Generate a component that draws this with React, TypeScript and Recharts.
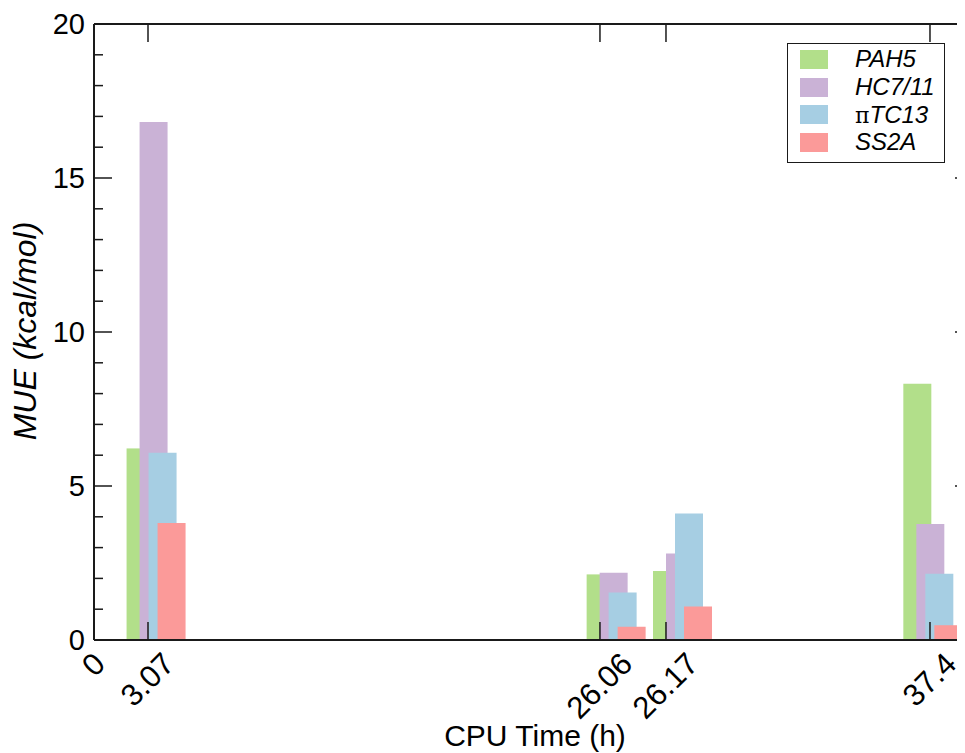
import React from "react";
import { BarChart, Bar, XAxis, YAxis, ReferenceLine, Legend } from "recharts";

// where each bar group sits along the x axis (axis units, 0..100)
const groupPos = [7.32, 60.14, 67.76, 96.5];

// MUE (kcal/mol) per method, one value per group
const pah5 = [6.22, 2.13, 2.24, 8.32];
const hc711 = [16.82, 2.18, 2.81, 3.77];
const ptc13 = [6.08, 1.54, 4.11, 2.15];
const ss2a = [3.8, 0.43, 1.09, 0.48];

// x ticks (axis units) and the CPU time shown on them
const tickPos = [0, 6.2, 58.09, 65.67, 95.98];
const tickLabels = ["0", "3.07", "26.06", "26.17", "37.4"];

const yTicks = [0, 1, 2, 3, 4, 5, 6, 7, 8, 9, 10, 11, 12, 13, 14, 15, 16, 17, 18, 19, 20];

const series = [
  { key: "pah5", name: "PAH5", color: "#b2df8a" },
  { key: "hc711", name: "HC7/11", color: "#cab2d6" },
  { key: "ptc13", name: "πTC13", color: "#a6cee3" },
  { key: "ss2a", name: "SS2A", color: "#fb9a99" },
];

const data = groupPos.map((pos, i) => ({
  pos,
  pah5: pah5[i],
  hc711: hc711[i],
  ptc13: ptc13[i],
  ss2a: ss2a[i],
}));

const W = 957;
const H = 745;
const MARGIN = { top: 16, right: 0, left: 26, bottom: 83 };
const PLOT_TOP = MARGIN.top;
const PLOT_RIGHT = W - MARGIN.right;
const FONT = '"Liberation Sans", Arial, Helvetica, sans-serif';
const INK = "#1a1a1a";
const TICK_FS = 31;

// rough advance width of a numeric label, used to centre the rotated box
const labelWidth = (s: string) =>
  s.split("").reduce((a, c) => a + (c === "." ? 0.278 : 0.556), 0) * TICK_FS;

const XTick = (props: any) => {
  const { x, y, payload } = props;
  const idx = tickPos.indexOf(payload.value);
  const label = idx >= 0 ? tickLabels[idx] : String(payload.value);
  const half = (labelWidth(label) + 0.716 * TICK_FS) * 0.3536;
  return (
    <g>
      <line x1={x} y1={y} x2={x} y2={y - 18} stroke={INK} strokeWidth={1.5} />
      {payload.value !== 0 && (
        <line x1={x} y1={PLOT_TOP} x2={x} y2={PLOT_TOP + 18} stroke={INK} strokeWidth={1.5} />
      )}
      <text
        transform={`translate(${x - 1},${y + 10 + half}) rotate(-45)`}
        textAnchor="middle"
        dy="0.358em"
        fontSize={TICK_FS}
        fill="#000"
      >
        {label}
      </text>
    </g>
  );
};

const YTick = (props: any) => {
  const { x, y, payload } = props;
  const v = payload.value;
  const major = v % 5 === 0;
  return (
    <g>
      <line x1={x} y1={y} x2={x + (major ? 18 : 9)} y2={y} stroke={INK} strokeWidth={1.5} />
      {major && v !== 0 && v !== 20 && (
        <line x1={PLOT_RIGHT - 10} y1={y} x2={PLOT_RIGHT + 4} y2={y} stroke={INK} strokeWidth={1.5} />
      )}
      {major && (
        <text x={x - 9} y={y} dy="0.358em" textAnchor="end" fontSize={29} fill="#000">
          {v}
        </text>
      )}
    </g>
  );
};

const YTitle = () => (
  <text
    transform="translate(28,323) rotate(-90)"
    textAnchor="middle"
    fontSize={32}
    fontStyle="italic"
    fill="#000"
  >
    MUE (kcal/mol)
  </text>
);

const XTitle = () => (
  <text x={527} y={738} textAnchor="middle" fontSize={30} fill="#000">
    CPU Time (h)
  </text>
);

// PAH5 sits a little further left than the even step of the other bars
const ShiftedBar = (props: any) => (
  <rect x={props.x - 4} y={props.y} width={props.width} height={props.height} fill={props.fill} />
);

const LegendBox = () => (
  <div
    style={{
      width: 158,
      height: 120,
      boxSizing: "border-box",
      border: `1.5px solid ${INK}`,
      background: "#fff",
      padding: "2px 0 0 12px",
      fontFamily: FONT,
      fontStyle: "italic",
      fontSize: 24,
      color: "#000",
    }}
  >
    {series.map((s) => (
      <div key={s.key} style={{ display: "flex", alignItems: "center", height: 27.7 }}>
        <span style={{ display: "inline-block", width: 28, height: 19, background: s.color }} />
        <span style={{ marginLeft: 27, lineHeight: 1 }}>
          {s.key === "ptc13" ? (
            <>
              <span style={{ fontStyle: "normal", fontFamily: '"DejaVu Serif", serif', fontSize: 22 }}>π</span>
              TC13
            </>
          ) : (
            s.name
          )}
        </span>
      </div>
    ))}
  </div>
);

export default function App() {
  return (
    <div style={{ fontFamily: FONT }}>
      <BarChart
        width={W}
        height={H}
        data={data}
        margin={MARGIN}
        barSize={28}
        barGap={-19}
        style={{ fontFamily: FONT }}
      >
        <XAxis
          dataKey="pos"
          type="number"
          domain={[0, 100]}
          ticks={tickPos}
          interval={0}
          allowDataOverflow
          tick={<XTick />}
          tickLine={false}
          tickSize={0}
          tickMargin={0}
          axisLine={{ stroke: INK, strokeWidth: 2 }}
          height={30}
          label={{ content: XTitle }}
        />
        <YAxis
          type="number"
          domain={[0, 20]}
          ticks={yTicks}
          interval={0}
          allowDataOverflow
          tick={<YTick />}
          tickLine={false}
          tickSize={0}
          tickMargin={0}
          axisLine={{ stroke: INK, strokeWidth: 2 }}
          width={60}
          label={{ content: YTitle }}
        />
        <ReferenceLine y={20} stroke={INK} strokeWidth={2} />
        {series.map((s) => (
          <Bar
            key={s.key}
            dataKey={s.key}
            name={s.name}
            fill={s.color}
            isAnimationActive={false}
            shape={s.key === "pah5" ? <ShiftedBar /> : undefined}
          />
        ))}
        <Legend
          layout="vertical"
          align="center"
          verticalAlign="middle"
          wrapperStyle={{ left: 779, top: 34.5, width: 158, height: 120 }}
          content={<LegendBox />}
        />
      </BarChart>
    </div>
  );
}
